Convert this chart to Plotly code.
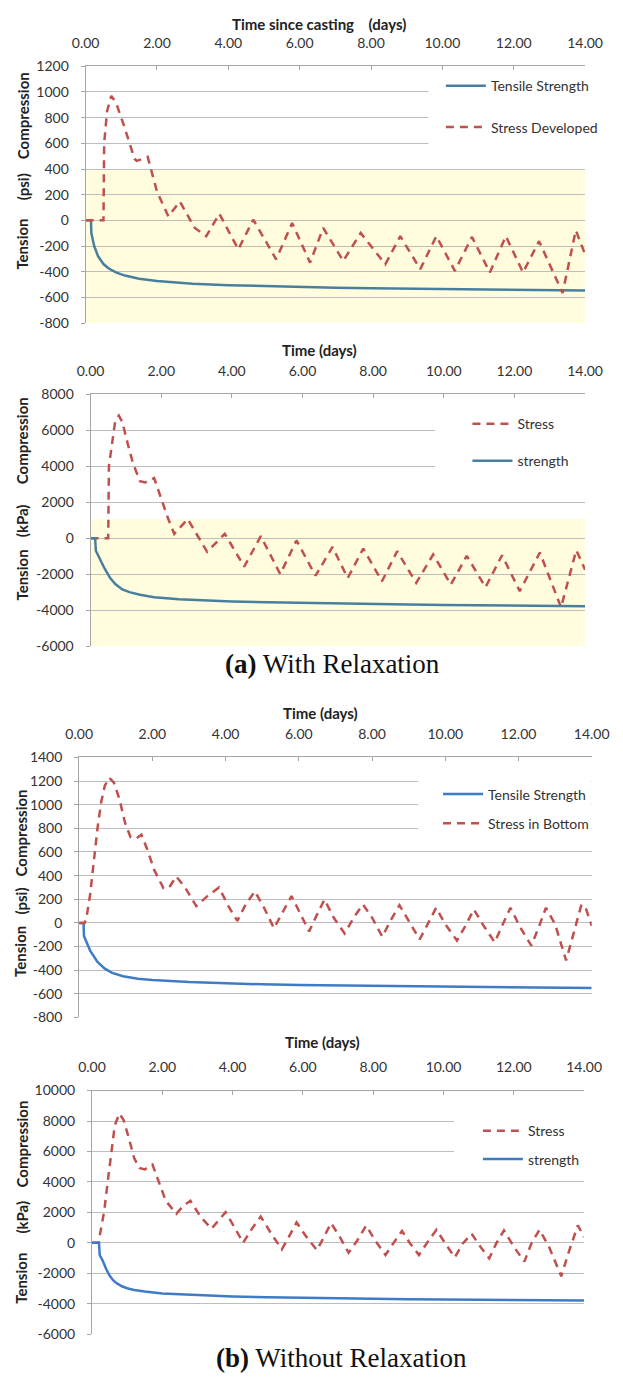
import plotly.graph_objects as go

# ---------------- DATA ----------------
# (a) With relaxation, psi
a_psi_str_t = [0, 0.15, 0.16, 0.24, 0.35, 0.5, 0.65, 0.85, 1.1, 1.5, 2, 2.5, 3, 4, 5, 6, 7, 8, 9, 10, 11, 12, 13, 14]
a_psi_str_v = [0, 0, -100, -200, -280, -340, -375, -405, -430, -455, -472, -484, -493, -505, -513, -519, -524, -528, -532, -535, -538, -541, -544, -546]
a_psi_stress_t = [0, 0.5, 0.52, 0.6, 0.72, 0.85, 1.06, 1.37, 1.43, 1.74, 2.0, 2.32, 2.64, 3.06, 3.38, 3.75, 4.28, 4.70,
                  5.34, 5.79, 6.29, 6.66, 7.22, 7.71, 8.40, 8.82, 9.38, 9.83, 10.35, 10.83, 11.33, 11.78, 12.26,
                  12.71, 13.37, 13.74, 14.0]
a_psi_stress_v = [0, 0, 600, 850, 969, 918, 750, 480, 463, 494, 224, 31, 147, -59, -123, 51, -226, 5,
                  -303, -21, -329, -59, -316, -98, -342, -123, -380, -123, -393, -129, -406, -123, -406,
                  -162, -566, -77, -265]

# (a) With relaxation, kPa
a_kpa_stress_t = [0, 0.5, 0.52, 0.6, 0.7, 0.8, 0.9, 1.05, 1.2, 1.4, 1.55, 1.8, 2.0, 2.2, 2.37, 2.75, 3.3, 3.8, 4.35, 4.82,
                  5.37, 5.83, 6.37, 6.85, 7.28, 7.72, 8.25, 8.68, 9.22, 9.7, 10.2, 10.65, 11.18, 11.65, 12.15,
                  12.72, 13.32, 13.75, 14.0]
a_kpa_stress_v = [0, 0, 4000, 5260, 6540, 6810, 6450, 5260, 4160, 3160, 3100, 3340, 2150, 1060, 240, 1060, -760, 240, -1580, 110,
                  -2000, -130, -2090, -490, -2220, -580, -2400, -730, -2490, -910, -2580, -980, -2730, -950, -2950,
                  -800, -3850, -670, -1760]
a_kpa_str_t = [0, 0.13, 0.15, 0.25, 0.4, 0.55, 0.7, 0.9, 1.1, 1.4, 1.8, 2.5, 3, 4, 5, 6, 7, 8, 9, 10, 11, 12, 13, 14]
a_kpa_str_v = [0, 0, -700, -1100, -1700, -2200, -2550, -2850, -3000, -3150, -3280, -3400, -3450, -3520, -3570, -3610,
               -3640, -3670, -3690, -3710, -3730, -3750, -3770, -3780]

# (b) Without relaxation, psi
b_psi_str_t = [0, 0.12, 0.13, 0.3, 0.5, 0.7, 0.9, 1.2, 1.6, 2, 3, 4, 5, 6, 7, 8, 9, 10, 11, 12, 13, 14]
b_psi_str_v = [0, 0, -110, -234, -331, -387, -423, -451, -473, -484, -501, -512, -520, -526, -529, -534, -537, -540,
               -543, -546, -549, -551]
b_psi_stress_t = [0, 0.15, 0.2, 0.3, 0.4, 0.5, 0.6, 0.7, 0.82, 0.95, 1.1, 1.25, 1.4, 1.55, 1.7, 1.85, 2.05, 2.3, 2.45,
                  2.65, 2.9, 3.2, 3.5, 3.82, 4.1, 4.32, 4.55, 4.8, 5.05, 5.32, 5.55, 5.8, 6.05, 6.28, 6.5, 6.7,
                  6.95, 7.25, 7.5, 7.75, 8.0, 8.28, 8.5, 8.75, 9.0, 9.3, 9.52, 9.75, 10.0, 10.32, 10.55, 10.78,
                  11.05, 11.35, 11.55, 11.78, 12.05, 12.35, 12.55, 12.75, 13.0, 13.3, 13.5, 13.72, 13.85, 14.0]
b_psi_stress_v = [0, 0, 45, 240, 520, 800, 1020, 1160, 1228, 1186, 1047, 850, 727, 713, 746, 630, 448, 295, 295,
                  393, 295, 142, 226, 300, 128, 17, 156, 267, 128, -45, 86, 226, 72, -72, 72, 198,
                  45, -89, 45, 156, 45, -117, 17, 150, 17, -139, -11, 128, -11, -150, -25, 114,
                  -25, -164, -25, 128, -39, -192, -39, 128, -11, -318, -95, 156, 114, -25]

# (b) Without relaxation, kPa
b_kpa_stress_t = [0, 0.18, 0.25, 0.35, 0.45, 0.55, 0.65, 0.78, 0.9, 1.05, 1.2, 1.35, 1.5, 1.72, 1.9, 2.1, 2.4, 2.6, 2.8,
                  3.1, 3.4, 3.6, 3.8, 4.05, 4.3, 4.55, 4.8, 5.1, 5.4, 5.6, 5.82, 6.1, 6.4, 6.6, 6.8, 7.05, 7.3,
                  7.55, 7.8, 8.05, 8.35, 8.6, 8.82, 9.05, 9.3, 9.55, 9.8, 10.05, 10.32, 10.55, 10.8, 11.05, 11.3,
                  11.5, 11.72, 12.0, 12.3, 12.5, 12.73, 13.0, 13.35, 13.55, 13.82, 14.0]
b_kpa_stress_v = [0, 0, 820, 2120, 4060, 6000, 7730, 8490, 8060, 6870, 5570, 4920, 4820, 5140, 4060, 2760, 1900, 2440, 2760,
                  1680, 930, 1470, 2010, 1040, 0, 930, 1730, 600, -430, 390, 1340, 390, -480, 390, 1300, 390, -650,
                  170, 1140, 170, -800, 65, 780, -40, -800, 65, 860, -40, -950, -40, 600, -260, -1020,
                  -40, 820, -260, -1230, -40, 860, -260, -2200, -690, 1140, 390]
b_kpa_str_t = [0, 0.2, 0.22, 0.3, 0.4, 0.5, 0.6, 0.7, 0.85, 1.0, 1.2, 1.5, 2, 3, 4, 5, 6, 7, 8, 9, 10, 11, 12, 13, 14]
b_kpa_str_v = [0, 0, -800, -1150, -1700, -2150, -2450, -2650, -2850, -2980, -3090, -3200, -3320, -3440, -3520,
               -3580, -3620, -3650, -3680, -3700, -3720, -3740, -3755, -3770, -3780]

x_ticks = [0, 2, 4, 6, 8, 10, 12, 14]
y_ticks_psi_a = [-800, -600, -400, -200, 0, 200, 400, 600, 800, 1000, 1200]
y_ticks_kpa_a = [-6000, -4000, -2000, 0, 2000, 4000, 6000, 8000]
y_ticks_psi_b = [-800, -600, -400, -200, 0, 200, 400, 600, 800, 1000, 1200, 1400]
y_ticks_kpa_b = [-6000, -4000, -2000, 0, 2000, 4000, 6000, 8000, 10000]

# ---------------- STYLE ----------------
W, H = 623, 1384
RED = "#C0504D"
BLUE_A = "#4A7E9E"
BLUE_B = "#3F7CC6"
GRID = "#BEBEBE"
AXC = "#A6A6A6"
TICKFONT = dict(family="Lato", size=14, color="#333333")
DASH = "8px,6px"


def px_x(p):
    return p / W


def px_y(p):
    return 1 - p / H


panels = [
    dict(xd=(75.5, 602), yd=(58, 318), yr=(-800, 1200), yt=y_ticks_psi_a),
    dict(xd=(80.7, 602), yd=(390, 645), yr=(-6000, 8000), yt=y_ticks_kpa_a),
    dict(xd=(68.7, 609), yd=(757.7, 1021), yr=(-800, 1400), yt=y_ticks_psi_b),
    dict(xd=(82.2, 601), yd=(1095, 1341.7), yr=(-6000, 10000), yt=y_ticks_kpa_b),
]

fig = go.Figure()
layout = dict(width=W, height=H, margin=dict(l=0, r=0, t=0, b=0),
              paper_bgcolor="white", plot_bgcolor="rgba(0,0,0,0)", showlegend=True)

for i, p in enumerate(panels, start=1):
    sx = "" if i == 1 else str(i)
    layout["xaxis" + sx] = dict(
        domain=[px_x(p["xd"][0]), px_x(p["xd"][1])], range=[0, 14], side="top",
        anchor="y" + sx, tickvals=x_ticks, ticktext=[f"{v:.2f}" for v in x_ticks],
        ticks="inside", ticklen=4, tickcolor=AXC, showline=True, linecolor=AXC, linewidth=1,
        showgrid=False, zeroline=False, tickfont=TICKFONT, ticklabelstandoff=12, fixedrange=True)
    layout["yaxis" + sx] = dict(
        domain=[px_y(p["yd"][1]), px_y(p["yd"][0])], range=list(p["yr"]), anchor="x" + sx,
        tickvals=p["yt"], ticktext=[str(v) for v in p["yt"]], ticks="outside", ticklen=4,
        tickcolor=AXC, showline=True, linecolor=AXC, linewidth=1, showgrid=True, gridcolor=GRID,
        gridwidth=1, zeroline=False, tickfont=TICKFONT, ticklabelstandoff=9, fixedrange=True)


def add_line(t, v, name, color, dash, panel, legend, rank):
    sx = "" if panel == 1 else str(panel)
    fig.add_trace(go.Scatter(
        x=t, y=v, name=name, mode="lines", xaxis="x" + sx, yaxis="y" + sx,
        line=dict(color=color, width=2.5, dash=dash), legend=legend,
        legendgroup=f"{legend}_{rank}", legendrank=rank))


add_line(a_psi_str_t, a_psi_str_v, "Tensile Strength", BLUE_A, "solid", 1, "legend", 1)
add_line(a_psi_stress_t, a_psi_stress_v, "Stress Developed", RED, DASH, 1, "legend", 2)
add_line(a_kpa_stress_t, a_kpa_stress_v, "Stress", RED, DASH, 2, "legend2", 1)
add_line(a_kpa_str_t, a_kpa_str_v, "strength", BLUE_A, "solid", 2, "legend2", 2)
add_line(b_psi_str_t, b_psi_str_v, "Tensile Strength", BLUE_B, "solid", 3, "legend3", 1)
add_line(b_psi_stress_t, b_psi_stress_v, "Stress in Bottom", RED, DASH, 3, "legend3", 2)
add_line(b_kpa_stress_t, b_kpa_stress_v, "Stress", RED, DASH, 4, "legend4", 1)
add_line(b_kpa_str_t, b_kpa_str_v, "strength", BLUE_B, "solid", 4, "legend4", 2)

LEGFONT = dict(family="Lato", size=14, color="#333333")
legends = [
    ("legend", 450, 62, 20),
    ("legend2", 478, 404, 16),
    ("legend3", 447, 779, 8),
    ("legend4", 489, 1120, 7),
]
for name, lx, ly, gap in legends:
    layout[name] = dict(x=px_x(lx), y=px_y(ly), xanchor="left", yanchor="top",
                        bgcolor="rgba(0,0,0,0)", borderwidth=0, font=LEGFONT,
                        tracegroupgap=gap, traceorder="grouped", itemwidth=40)

shapes = [
    dict(type="rect", xref="x", yref="y", x0=0, x1=14, y0=-800, y1=400,
         fillcolor="#FFFDDE", line=dict(width=0), layer="below"),
    dict(type="rect", xref="x2", yref="y2", x0=0, x1=14, y0=-6000, y1=1050,
         fillcolor="#FFFDDE", line=dict(width=0), layer="below"),
    dict(type="rect", xref="x", yref="y", x0=9.61, x1=14, y0=480, y1=1130,
         fillcolor="white", line=dict(width=0), layer="between"),
    dict(type="rect", xref="x2", yref="y2", x0=9.75, x1=14, y0=3000, y1=7300,
         fillcolor="white", line=dict(width=0), layer="between"),
    dict(type="rect", xref="x3", yref="y3", x0=9.26, x1=14, y0=700, y1=1330,
         fillcolor="white", line=dict(width=0), layer="between"),
    dict(type="rect", xref="x4", yref="y4", x0=10.3, x1=14, y0=5000, y1=9000,
         fillcolor="white", line=dict(width=0), layer="between"),
]
layout["shapes"] = shapes

TITLEFONT = dict(family="Lato", size=15, color="#222222")
YTFONT = dict(family="Lato", size=15, color="#222222")
ann = []


def text(x, y, s, font, angle=0, xanchor="center"):
    ann.append(dict(x=px_x(x), y=px_y(y), xref="paper", yref="paper", text=s, showarrow=False,
                    font=font, textangle=angle, xanchor=xanchor, yanchor="middle"))


text(322, 15, "<b>Time since casting&nbsp;&nbsp;&nbsp;&nbsp;(days)</b>", TITLEFONT)
text(322, 345, "<b>Time (days)</b>", TITLEFONT)
text(323, 713, "<b>Time (days)</b>", TITLEFONT)
text(325, 1046, "<b>Time (days)</b>", TITLEFONT)

ylab = [
    (9, 238, 180, 108, "(psi)"),
    (8, 573, 518, 437, "(kPa)"),
    (7, 954, 903, 834, "(psi)"),
    (8, 1285, 1223, 1149, "(kPa)"),
]
for x, yt, yu, yc, unit in ylab:
    text(x, yt, "<b>Tension</b>", YTFONT, angle=-90)
    text(x, yu, "<b>" + unit + "</b>", YTFONT, angle=-90)
    text(x, yc, "<b>Compression</b>", YTFONT, angle=-90)

CAPFONT = dict(family="Liberation Serif", size=27, color="#111111")
text(336, 663, "<b>(a)</b> With Relaxation", CAPFONT)
text(345, 1366, "<b>(b)</b> Without Relaxation", CAPFONT)

layout["annotations"] = ann
fig.update_layout(**layout)
fig.write_html("out.html")
